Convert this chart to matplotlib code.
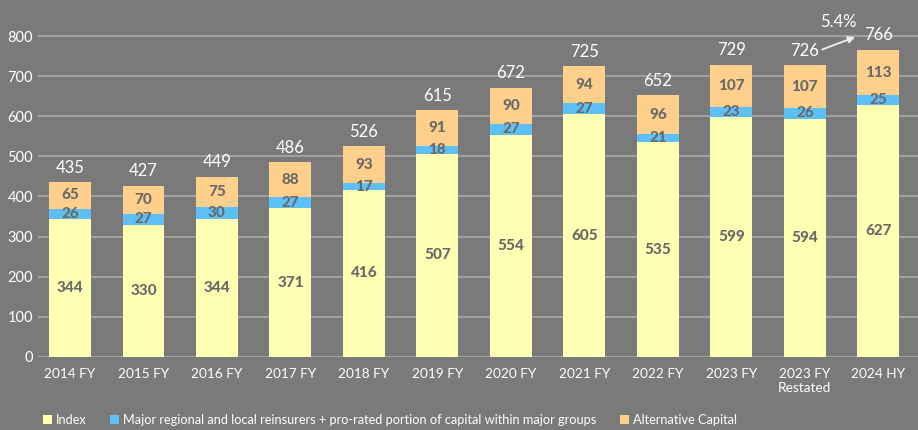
import matplotlib.pyplot as plt
import numpy as np

plt.rcParams['font.family'] = ['Lato', 'DejaVu Sans']

categorias = ['2014 FY', '2015 FY', '2016 FY', '2017 FY', '2018 FY', '2019 FY',
              '2020 FY', '2021 FY', '2022 FY', '2023 FY', '2023 FY\nRestated', '2024 HY']
indice = [344, 330, 344, 371, 416, 507, 554, 605, 535, 599, 594, 627]
regionales = [26, 27, 30, 27, 17, 18, 27, 27, 21, 23, 26, 25]
alternativo = [65, 70, 75, 88, 93, 91, 90, 94, 96, 107, 107, 113]
totales = [435, 427, 449, 486, 526, 615, 672, 725, 652, 729, 726, 766]

series = [
    ('Index', indice, '#FFFFB3'),
    ('Major regional and local reinsurers + pro-rated portion of capital within major groups',
     regionales, '#5CC0F7'),
    ('Alternative Capital', alternativo, '#FFD08C'),
]

fondo = '#7A7A7A'
gris_texto = '#6A6A6A'

fig = plt.figure(figsize=(9.18, 4.30), dpi=100, facecolor=fondo)
ax = fig.add_axes([0.0414, 0.170, 0.9586, 0.830], facecolor=fondo)

x = np.arange(len(categorias))
ancho = 0.57

# Lineas de la grilla por detras de las barras
for v in range(0, 900, 100):
    ax.axhline(v, color='#A8A8A8', linewidth=1.2, zorder=0)

base = np.zeros(len(categorias))
for nombre, valores, color in series:
    valores = np.array(valores)
    ax.bar(x, valores, ancho, bottom=base, color=color, label=nombre, zorder=2)
    for xi, b, v in zip(x, base, valores):
        ax.text(xi, b + v / 2, str(v), ha='center', va='center', color=gris_texto,
                fontsize=11, fontweight='black', zorder=3)
    base = base + valores

for xi, t in zip(x, totales):
    ax.text(xi, t + 36, str(t), ha='center', va='center', color='white', fontsize=12)

# Flecha de crecimiento entre 2023 restated y 2024 HY
ax.annotate('', xy=(10.72, 800), xytext=(10.2, 764),
            arrowprops=dict(arrowstyle='-|>', color='#EEEEEE', lw=1.3, mutation_scale=10))
ax.text(10.45, 836, '5.4%', ha='center', va='center', color='white', fontsize=12)

ax.set_xlim(-0.435, 11.54)
ax.set_ylim(0, 890)
ax.set_yticks(range(0, 900, 100))
ax.set_xticks(x)
ax.set_xticklabels(categorias)
ax.tick_params(axis='both', length=0, colors='white', labelsize=10.5)
ax.tick_params(axis='x', pad=8, labelsize=9.8)
for s in ax.spines.values():
    s.set_visible(False)

ley = fig.legend(loc='lower left', bbox_to_anchor=(0.034, -0.018), ncol=3, frameon=False,
                 handlelength=0.75, handleheight=0.75, handletextpad=0.3, columnspacing=1.8,
                 fontsize=9.2)
for t in ley.get_texts():
    t.set_color('white')

fig.savefig('out.png', dpi=100, facecolor=fondo)
